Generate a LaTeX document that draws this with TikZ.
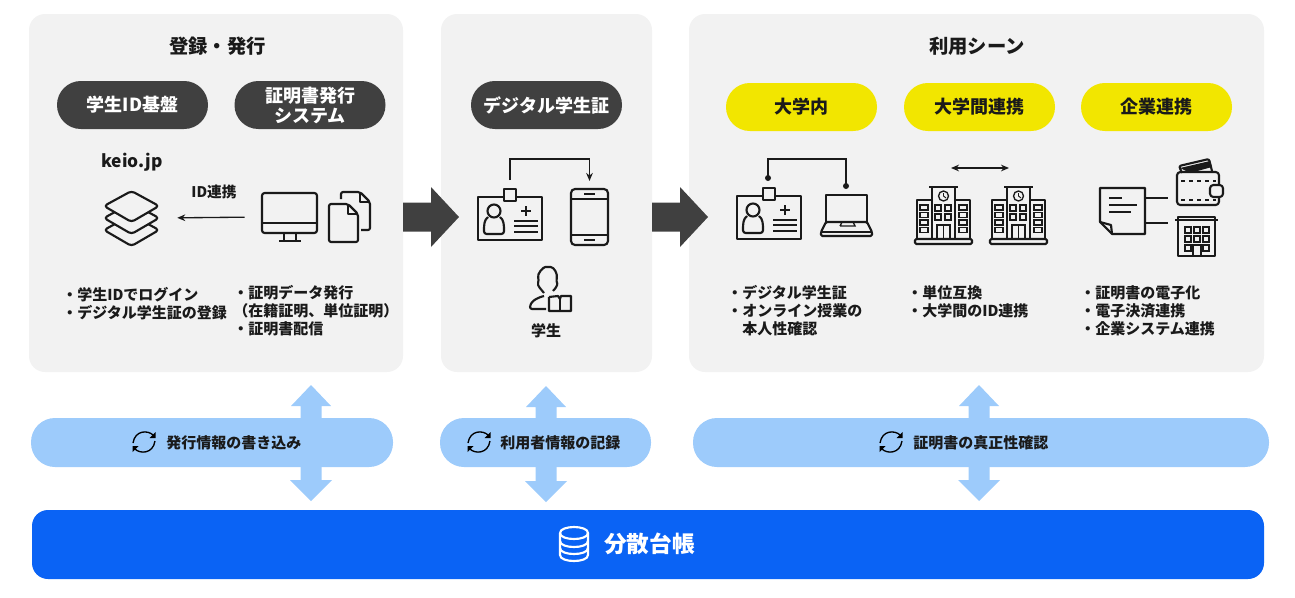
\documentclass[tikz,border=0pt]{standalone}
\usepackage{fontspec}
\usetikzlibrary{arrows.meta}
\setmainfont{Noto Sans CJK JP}
\definecolor{panelbg}{HTML}{F2F2F2}
\definecolor{pilldark}{HTML}{404040}
\definecolor{pillyellow}{HTML}{F2E600}
\definecolor{pillblue}{HTML}{9DCBFB}
\definecolor{ledger}{HTML}{0A63F5}
\definecolor{ink}{HTML}{1A1A1A}
\tikzset{
    panel/.style={fill=panelbg, rounded corners=12pt, minimum height=358*.75pt, inner sep=0},
    pill/.style={rounded corners=17.9pt, minimum width=151*.75pt, minimum height=48*.75pt, inner sep=0, align=center, font=\fontsize{13.5}{15}\selectfont\bfseries},
    darkpill/.style={pill, fill=pilldark, text=white},
    yellowpill/.style={pill, fill=pillyellow, text=ink},
    bluepill/.style={fill=pillblue, rounded corners=18pt, minimum height=49*.75pt, inner sep=0},
    blocktext/.style={anchor=west, inner sep=0, align=left, text=ink, font=\fontsize{11.25}{13.5}\selectfont\bfseries},
    hole/.style={inner sep=0, minimum width=#1*.75pt},
    icon/.style={line width=1.6pt, draw=ink, line join=round},
    thinline/.style={line width=1pt, draw=ink},
    pics/bigarrow/.style={code={\fill[pilldark](0,-14.5)--(28,-14.5)--(28,-30)--(56,0)--(28,30)--(28,14.5)--(0,14.5)--cycle;}},
    pics/updown/.style={code={\fill[pillblue](0,-58)--(20,-37)--(10.5,-37)--(10.5,37)--(21,37)--(0,58)--(-21,37)--(-10.5,37)--(-10.5,-37)--(-20,-37)--cycle;}},
    pics/idcard/.style={code={
        \draw[icon](0,8)rectangle(64,51);
        \draw[icon,fill=panelbg](26,0)rectangle(38,12);
        \draw[icon](16,22)circle(6.5);
        \draw[icon,rounded corners=2pt](10,28)..controls(6,31)and(6,36)..(6,45)--(26,45)..controls(26,36)and(26,31)..(22,28);
        \draw[icon](48,17)--(48,27)(43,22)--(53,22);
        \foreach \y in {32,37,43}{\draw[icon](36,\y)--(60,\y);}
    }},
    pics/school/.style={code={
        \draw[icon](17,39)--(17,13)--(2,13)--(2,52);
        \draw[icon](40,39)--(40,13)--(55,13)--(55,52);
        \draw[icon](17,52)--(17,0)--(40,0)--(40,52);
        \draw[icon](14,0)--(43,0);
        \draw[icon,rounded corners=1pt](0,52)rectangle(57,57);
        \draw[line width=1pt,draw=ink](28.5,9)circle(5);
        \draw[line width=.7pt,draw=ink](28.5,9)--(28.5,6)(28.5,9)--(31,11);
        \foreach \y in {18,25.5,33,40.5}{
            \draw[thinline](5,\y)rectangle(13,\y+5);
            \draw[thinline](44,\y)rectangle(52,\y+5);
        }
        \foreach \x in {20,30}{\foreach \y in {18,27}{\draw[thinline](\x,\y)rectangle(\x+6,\y+6);}}
        \draw[thinline](22,52)--(22,38)--(35,38)--(35,52)(28.5,38)--(28.5,52);
    }},
    pics/sync/.style={code={
        \draw[line width=1pt,draw=black](9,-7)..controls(4,-12)and(-9,-12)..(-11,1);
        \draw[line width=1pt,draw=black](11,-1)..controls(9,12)and(-4,12)..(-9,7);
        \fill[black](11.5,-10)--(11.5,-4)--(5.5,-4)--cycle;
        \fill[black](-11.5,10)--(-11.5,4)--(-5.5,4)--cycle;
    }},
}
\begin{document}
\begin{tikzpicture}[>={Stealth[length=6pt,width=5pt]}, x=.75pt, y=-.75pt]
\useasboundingbox (0,0) rectangle (1295,597);
\node[panel, minimum width=374*.75pt](regpanel) at (216,193){};
\node[panel, minimum width=211*.75pt](cardpanel) at (546.5,193){};
\node[panel, minimum width=575*.75pt](usepanel) at (976.5,193){};
\pic at (403,217){bigarrow};
\pic at (652,217){bigarrow};
\pic at (311,443){updown};
\pic at (546,444){updown};
\pic at (979,443){updown};
\node[bluepill, minimum width=362*.75pt](issuepill) at (212,442.5){};
\node[bluepill, minimum width=211*.75pt](userpill) at (545.5,442.5){};
\node[bluepill, minimum width=576*.75pt](verifypill) at (981,442.5){};
\node[fill=ledger, rounded corners=12pt, minimum width=1232*.75pt, minimum height=69*.75pt, inner sep=0](ledgerbar) at (648,544.5){};
% headings
\node[inner sep=0, text=ink, font=\fontsize{14.5}{16}\selectfont\bfseries](regtitle) at (217.5,46){登録・発行};
\node[inner sep=0, text=ink, font=\fontsize{14.5}{16}\selectfont\bfseries](usetitle) at (977,46){利用シーン};
\node[darkpill](idpill) at (132.5,105){学生ID基盤};
\node[darkpill, font=\fontsize{13.5}{15}\selectfont\bfseries](certpill) at (310,105){証明書発行\\システム};
\node[darkpill](cardpill) at (546.5,105){デジタル学生証};
\node[yellowpill](campuspill) at (801.5,107){大学内};
\node[yellowpill](interpill) at (979.5,107){大学間連携};
\node[yellowpill](corppill) at (1156.5,107){企業連携};
% keio.jp
\node[inner sep=0, text=ink, font=\fontsize{13}{15}\selectfont\bfseries](keio) at (132,162){keio.jp};
\node[hole=55, minimum height=53*.75pt](layers) at (131.5,218){};
\foreach \y in {24,12,0}{
    \draw[icon,fill=panelbg,rounded corners=2.5pt](131.5,191+\y)--(159,206+\y)--(131.5,222+\y)--(104,206+\y)--cycle;
}
\node[hole=55, minimum height=48*.75pt](monitor) at (289.5,217){};
\draw[icon,rounded corners=2pt](262,193)rectangle(317,233);
\draw[icon](262,223)--(317,223);
\draw[icon](284,233)--(284,241)(296,233)--(296,241)(279,241)--(301,241);
\draw[icon,rounded corners=1.5pt](341,199)--(341,192)--(360,192)--(370,202)--(370,230)--(361,230);
\draw[icon](360,192)--(360,202)--(370,202);
\draw[icon,rounded corners=1.5pt](329,204)--(348,204)--(358,214)--(358,242)--(329,242)--cycle;
\draw[icon](348,204)--(348,214)--(358,214);
\node[inner sep=0, text=ink, font=\fontsize{11}{13}\selectfont\bfseries](idlink) at (214,192){ID連携};
\draw[->, line width=1pt, draw=ink, shorten >=18*.75pt, shorten <=17*.75pt](monitor.west)--(layers.east);
\node[blocktext](loginlist) at (62,304){・学生IDでログイン\\・デジタル学生証の登録};
\node[blocktext](issuelist) at (233,311){・証明データ発行\\（在籍証明、単位証明）\\・証明書配信};
% digital card
\pic at (478,189){idcard};
\coordinate (cardtop) at (510,180);
\node[hole=37, minimum height=56*.75pt, draw=ink, line width=1.6pt, rounded corners=3pt](phone) at (589.5,217){};
\draw[icon](571,199)--(608,199)(571,235)--(608,235);
\draw[icon](584,194)--(595,194)(584,240)--(595,240);
\coordinate (cardbend) at (510,159);
\draw[->, line width=1.2pt, draw=ink](cardtop)--(cardbend)-|([yshift=7*.75pt]phone.north);
\draw[icon,rounded corners=2pt](544,293)..controls(541,289)and(537,286)..(539,280)..controls(537,274)and(543,267)..(548,267)..controls(554,267)and(558,274)..(556,281)..controls(558,285)and(555,289)..(553,291);
\draw[icon,rounded corners=1.5pt](546,309)--(530,309)..controls(530,302)and(536,298)..(544,296);
\draw[icon](549,297)--(549,311)--(571,311)--(571,296)--(561,296)--(560,299)--(558,296)--(549,297);
\draw[icon](560,298)--(560,312);
\node[inner sep=0, text=ink, font=\fontsize{11.25}{13.5}\selectfont\bfseries](student) at (546,331){学生};
% on campus
\pic at (737,188){idcard};
\fill[ink](768,178)circle(3);
\fill[ink](846,186)circle(3);
\coordinate (campusa) at (768,178);
\coordinate (campusb) at (846,186);
\coordinate (campusbend) at (768,159);
\draw[line width=1.2pt, draw=ink](campusa)--(campusbend)-|(campusb);
\draw[icon](826,222)--(826,195)--(867,195)--(867,222);
\draw[icon,rounded corners=1pt](826,222)--(821,232)--(821,236)--(872,236)--(872,232)--(867,222)--cycle;
\draw[icon](821,232)--(872,232);
\draw[thinline](840,226)--(842,222)(853,222)--(855,226)--(840,226);
% schools
\pic at (915,187){school};
\pic at (990,187){school};
\coordinate (schoola) at (951,168);
\coordinate (schoolb) at (1009,168);
\draw[<->, line width=1pt, draw=ink](schoola)--(schoolb);
% corporate
\node[hole=45, minimum height=46*.75pt](note) at (1122.5,211){};
\draw[icon](1100,188)--(1145,188)--(1145,234)--(1112,234)--(1100,222)--cycle;
\draw[icon](1100,222)--(1111,225)--(1112,234);
\draw[thinline, line width=1.2pt](1109,198)--(1122,198)(1109,205)--(1137,205)(1109,212)--(1131,212);
\coordinate (walletend) at (1168,198);
\coordinate (buildingend) at (1168,223);
\draw[line width=1.6pt, draw=ink](note.east |- walletend)--(walletend);
\draw[line width=1.6pt, draw=ink](note.east |- buildingend)--(buildingend);
\draw[icon,rounded corners=1.5pt](1182,173)--(1179,166)--(1209,159)--(1212,171);
\fill[ink](1180,168)--(1210,161)--(1212,167)--(1190,173)--cycle;
\draw[icon,rounded corners=2.5pt](1177,178)--(1177,172)--(1219,172)--(1219,205)--(1177,205)--cycle;
\draw[thinline,dashed](1181,181)--(1216,181)(1181,200)--(1216,200);
\draw[icon,fill=panelbg,rounded corners=2.5pt](1210,185)rectangle(1223,197);
\draw[icon](1178,217)rectangle(1215,256);
\draw[icon](1175,220)--(1218,220);
\foreach \x in {1185,1194,1203}{\foreach \y in {227,236}{\draw[thinline](\x,\y)rectangle(\x+6,\y+6);}}
\draw[thinline](1185,245)rectangle(1191,251)(1203,245)rectangle(1209,251);
\draw[thinline](1193,256)--(1193,245)--(1201,245)--(1201,256);
\node[blocktext](campuslist) at (727,311){・デジタル学生証\\・オンライン授業の\\　本人性確認};
\node[blocktext](interlist) at (907,302){・単位互換\\・大学間のID連携};
\node[blocktext](corplist) at (1080,311){・証明書の電子化\\・電子決済連携\\・企業システム連携};
% ledger row
\pic at (144,442){sync};
\pic at (479,442){sync};
\pic at (891,442){sync};
\node[blocktext, font=\fontsize{11.25}{13}\selectfont\bfseries](issuetext) at (166,442.5){発行情報の書き込み};
\node[blocktext, font=\fontsize{11.25}{13}\selectfont\bfseries](usertext) at (500,442.5){利用者情報の記録};
\node[blocktext, font=\fontsize{11.25}{13}\selectfont\bfseries](verifytext) at (913,442.5){証明書の真正性確認};
\draw[line width=1.6pt, draw=white](560,533)--(560,555)..controls(560,563)and(588,563)..(588,555)--(588,533);
\draw[line width=1.6pt, draw=white](560,533)..controls(560,525)and(588,525)..(588,533)..controls(588,541)and(560,541)..(560,533);
\draw[line width=1.6pt, draw=white](560,541)..controls(560,549)and(588,549)..(588,541);
\draw[line width=1.6pt, draw=white](560,548)..controls(560,556)and(588,556)..(588,548);
\node[inner sep=0, anchor=west, text=white, font=\fontsize{17}{20}\selectfont\bfseries](ledgertext) at (604,544){分散台帳};
\end{tikzpicture}
\end{document}
